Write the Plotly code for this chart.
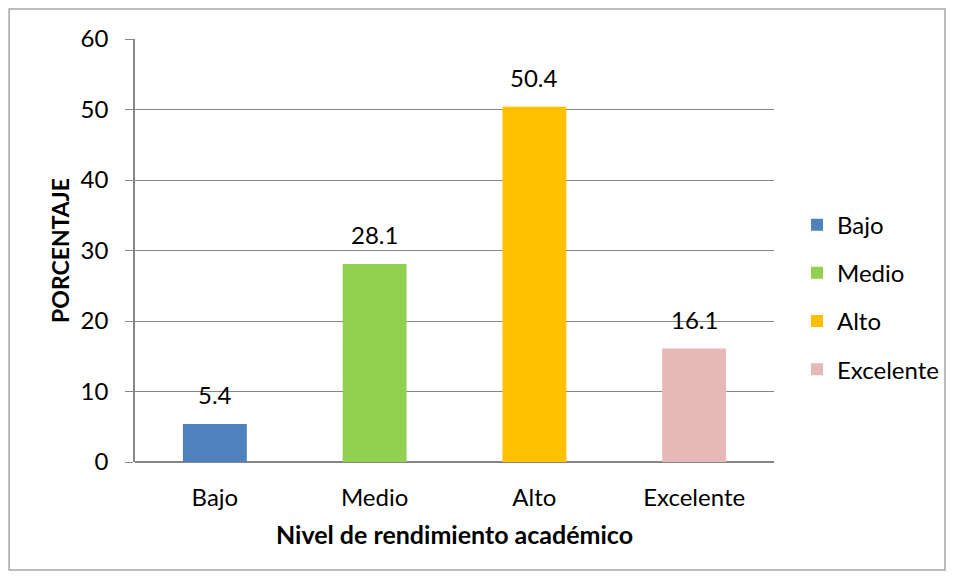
import plotly.graph_objects as go

categories = ["Bajo", "Medio", "Alto", "Excelente"]
values = [5.4, 28.1, 50.4, 16.1]
colors = ["#4F81BD", "#92D050", "#FFC000", "#E6B9B8"]
y_ticks = [0, 10, 20, 30, 40, 50, 60]
x_title = "Nivel de rendimiento académico"
y_title = "PORCENTAJE"

FONT = "Lato, Carlito, Calibri, sans-serif"
GRID = "#868686"

fig = go.Figure()
for cat, val, col in zip(categories, values, colors):
    fig.add_trace(go.Bar(
        x=[cat], y=[val], name=cat, marker_color=col, width=0.4,
        legendgroup=cat, marker_line_width=0,
    ))
    fig.add_annotation(
        x=cat, y=val, text=f"{val:.1f}", showarrow=False,
        yanchor="bottom", yshift=13, font=dict(size=24, color="#000000", family=FONT),
    )

fig.update_layout(
    width=955, height=579,
    margin=dict(l=127, r=189, t=31, b=125),
    paper_bgcolor="white", plot_bgcolor="white",
    barmode="overlay",
    font=dict(family=FONT, size=24, color="#000000"),
    showlegend=True,
    legend=dict(
        x=1.036, xanchor="left", y=0.39, yanchor="middle",
        traceorder="grouped", tracegroupgap=14,
        font=dict(size=24, family=FONT), bgcolor="rgba(0,0,0,0)",
    ),
    xaxis=dict(
        categoryorder="array", categoryarray=categories,
        showgrid=False, ticks="", showline=False,
        ticklabelstandoff=19,
        tickfont=dict(size=24, family=FONT),
        title=dict(text=f"<b>{x_title}</b>", font=dict(size=25, family=FONT), standoff=16),
    ),
    yaxis=dict(
        range=[0, 60], tickvals=y_ticks, showgrid=True, gridcolor=GRID, gridwidth=1,
        showline=True, linecolor=GRID, linewidth=1.5,
        ticks="outside", ticklen=8, tickcolor=GRID, tickwidth=1,
        ticklabelstandoff=12,
        zeroline=True, zerolinecolor=GRID, zerolinewidth=2,
        tickfont=dict(size=24, family=FONT),
        title=dict(text=f"<b>{y_title}</b>", font=dict(size=23, family=FONT), standoff=5),
    ),
    shapes=[dict(
        type="rect", xref="paper", yref="paper",
        x0=-0.197, x1=1.2676, y0=-0.2553, y1=1.0709,
        line=dict(color="#A6A6A6", width=1.5), fillcolor="rgba(0,0,0,0)", layer="below",
    )],
)

fig.write_html("out.html")
